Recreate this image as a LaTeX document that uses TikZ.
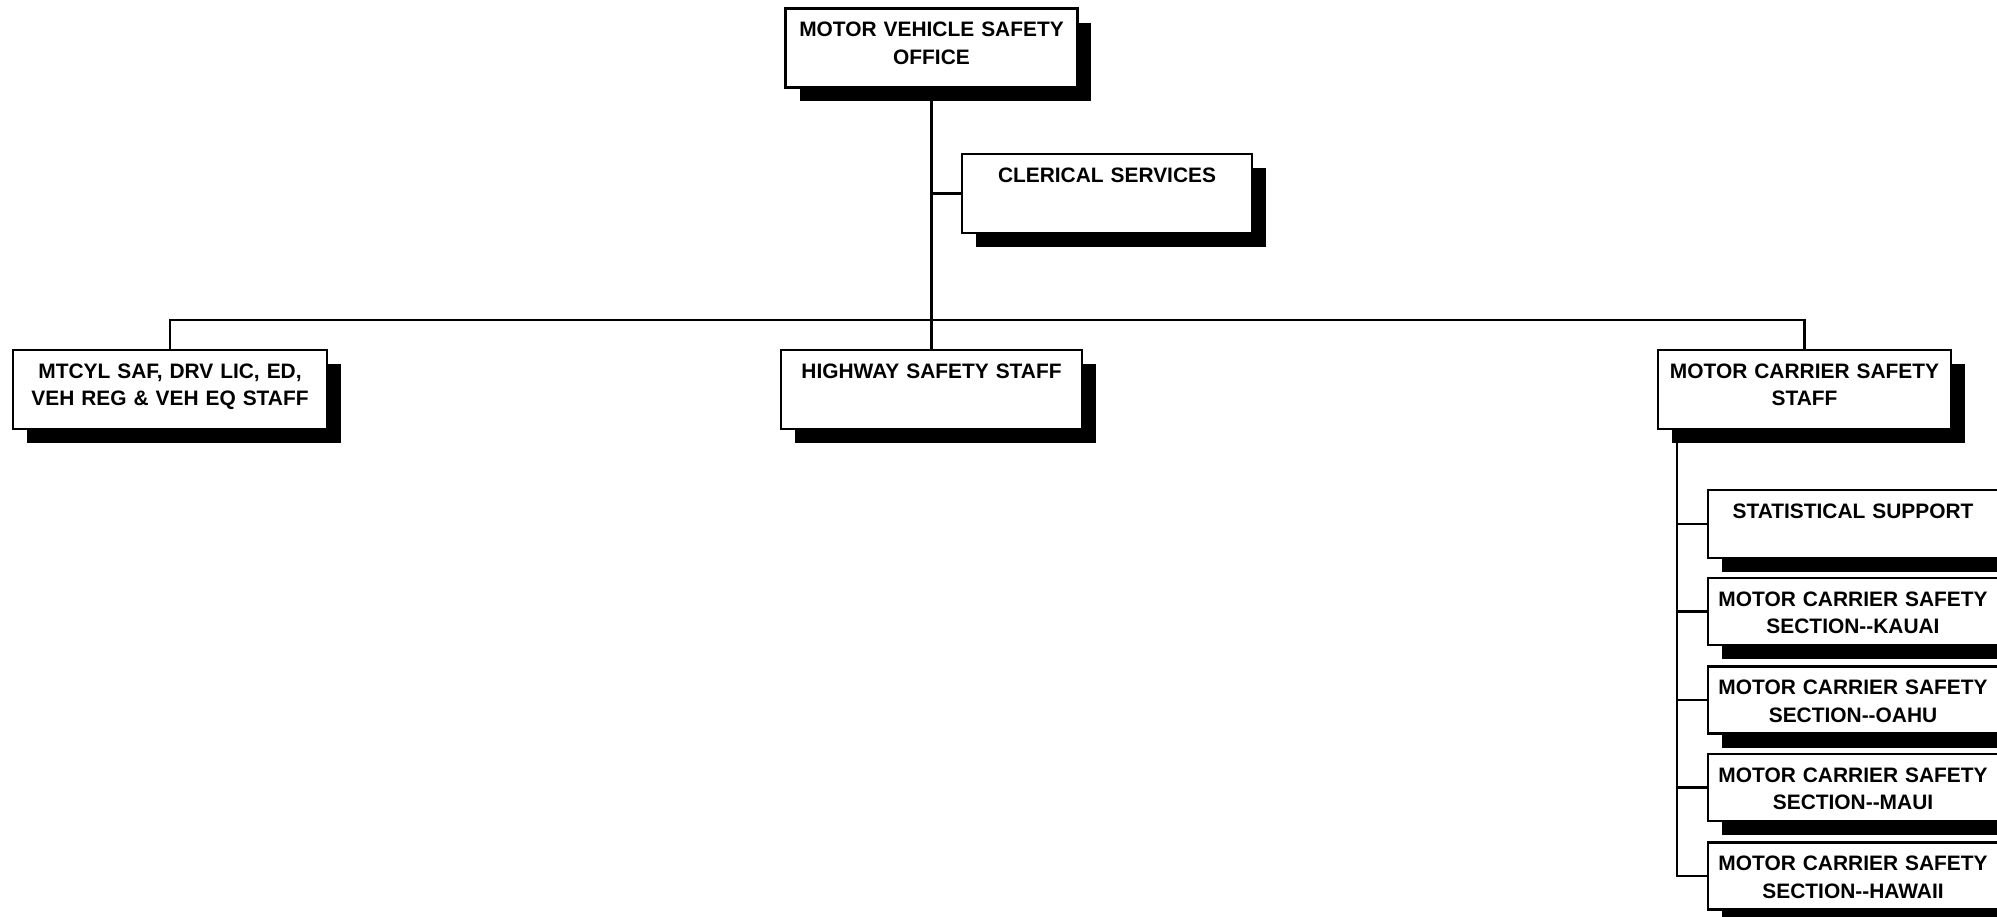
\documentclass[tikz,border=0pt]{standalone}
\usepackage{fontspec}
\setmainfont{Liberation Sans}
\usetikzlibrary{shadows}

\begin{document}
\begin{tikzpicture}[x=0.02cm,y=-0.02cm,
  unit/.style={draw,line width=1.4pt,fill=white,inner xsep=0pt,inner ysep=0pt,
    align=center,text height=0.56cm,font=\fontsize{11.9}{15.9}\selectfont\bfseries,
    drop shadow={shadow xshift=0.28cm,shadow yshift=-0.28cm,fill=black,opacity=1}},
  tallunit/.style={unit,text depth=1.02cm},
  lowunit/.style={unit,text depth=0.78cm},
  link/.style={line width=1.4pt}]
  \useasboundingbox (0,0) rectangle (1997,916);
  \node[tallunit,text width=5.84cm] (office) at (931.5,48) {MOTOR VEHICLE SAFETY\\OFFICE};
  \node[tallunit,text width=5.8cm] (clerical) at (1107,193.5) {CLERICAL SERVICES};
  \node[tallunit,text width=6.28cm] (licensing) at (170,389.5) {MTCYL SAF, DRV LIC, ED,\\VEH REG \& VEH EQ STAFF};
  \node[tallunit,text width=6.02cm] (highway) at (931.5,389.5) {HIGHWAY SAFETY STAFF};
  \node[tallunit,text width=5.86cm] (carrier) at (1804.5,389.5) {MOTOR CARRIER SAFETY\\STAFF};
  \node[lowunit,text depth=0.8cm,text width=5.8cm] (stats) at (1853,524) {STATISTICAL SUPPORT};
  \node[lowunit,text width=5.8cm] (kauai) at (1853,611.5) {MOTOR CARRIER SAFETY\\SECTION-{}-KAUAI};
  \node[lowunit,text width=5.8cm] (oahu) at (1853,700) {MOTOR CARRIER SAFETY\\SECTION-{}-OAHU};
  \node[lowunit,text width=5.8cm] (maui) at (1853,787.5) {MOTOR CARRIER SAFETY\\SECTION-{}-MAUI};
  \node[lowunit,text width=5.8cm] (hawaii) at (1853,876) {MOTOR CARRIER SAFETY\\SECTION-{}-HAWAII};
  \coordinate (bus) at (931.5,320);
  \coordinate (spine) at ([xshift=0.4cm]carrier.south west);
  \draw[link] (office.south) -- (highway.north);
  \draw[link] (clerical.west) -- (clerical.west -| office.south);
  \draw[link] (licensing.north) |- (bus) -| (carrier.north);
  \draw[link] (spine) |- (hawaii.west);
  \draw[link] (stats.west) -- (stats.west -| spine);
  \draw[link] (kauai.west) -- (kauai.west -| spine);
  \draw[link] (oahu.west) -- (oahu.west -| spine);
  \draw[link] (maui.west) -- (maui.west -| spine);
\end{tikzpicture}
\end{document}
